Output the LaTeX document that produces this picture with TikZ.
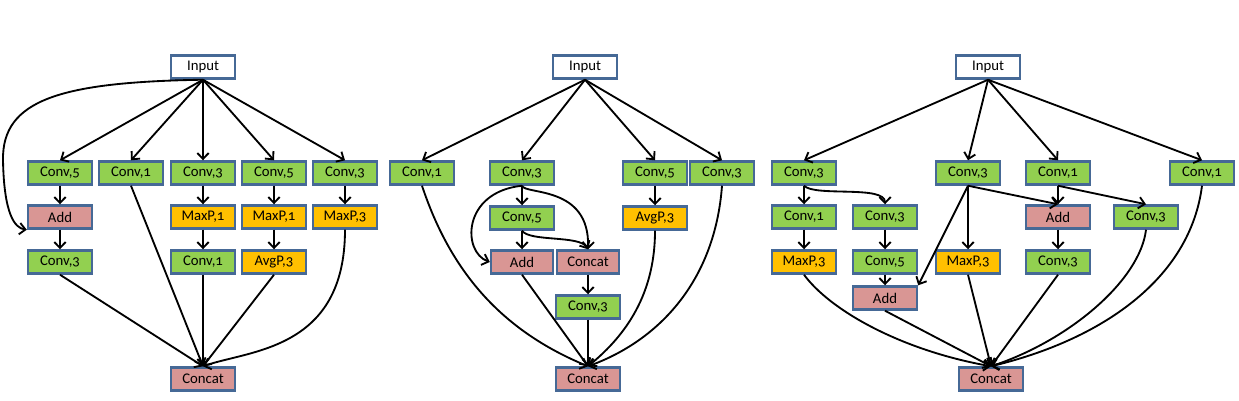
\documentclass[tikz,border=0pt]{standalone}
\usepackage{fontspec}
\setmainfont{Carlito}[Numbers=OldStyle]
\usetikzlibrary{arrows.meta}
\definecolor{boxline}{RGB}{70,105,150}
\definecolor{convgreen}{RGB}{146,208,80}
\definecolor{poolorange}{RGB}{255,192,0}
\definecolor{mergepink}{RGB}{217,150,148}
\begin{document}
\begin{tikzpicture}[x=0.02cm,y=-0.02cm,
  op/.style={draw=boxline,line width=1.4pt,minimum width=1.28cm,minimum height=0.46cm,inner sep=0pt,font=\fontsize{8.4}{10}\selectfont},
  conv/.style={op,fill=convgreen},
  pool/.style={op,fill=poolorange},
  merge/.style={op,fill=mergepink},
  inp/.style={op,fill=white},
  edge/.style={line width=1.05pt,-{Straight Barb[length=3.4pt,width=6.5pt]}}]
\useasboundingbox (0,0) rectangle (1239,400);
\node[inp] (inL) at (203,67) {Input};
\node[conv] (c5L) at (60,173) {Conv,5};
\node[conv] (c1L) at (131,173) {Conv,1};
\node[conv] (c3L) at (203,173) {Conv,3};
\node[conv] (c5Lb) at (274,173) {Conv,5};
\node[conv] (c3Lb) at (345,173) {Conv,3};
\node[merge] (addL) at (60,217) {Add};
\node[pool] (mp1L) at (203,217) {MaxP,1};
\node[pool] (mp1Lb) at (274,217) {MaxP,1};
\node[pool] (mp3L) at (345,217) {MaxP,3};
\node[conv] (c3Lc) at (60,262) {Conv,3};
\node[conv] (c1Lb) at (203,262) {Conv,1};
\node[pool] (ap3L) at (274,262) {AvgP,3};
\node[merge] (catL) at (203,379) {Concat};
\foreach \n in {c5L,c1L,c3L,c5Lb,c3Lb} \draw[edge] (inL.south) -- (\n.north);
\draw[edge] (inL.south) .. controls (60,82) and (2,100) .. (3,160) .. controls (4,215) and (15,228) .. (addL.south west);
\draw[edge] (c5L) -- (addL);
\draw[edge] (addL) -- (c3Lc);
\draw[edge] (c3L) -- (mp1L);
\draw[edge] (mp1L) -- (c1Lb);
\draw[edge] (c5Lb) -- (mp1Lb);
\draw[edge] (mp1Lb) -- (ap3L);
\draw[edge] (c3Lb) -- (mp3L);
\foreach \n in {c3Lc,c1L,c1Lb,ap3L} \draw[edge] (\n.south) -- (catL.north);
\draw[edge] (mp3L.south) .. controls (345,350) and (250,350) .. (catL.north);

\node[inp] (inM) at (585,67) {Input};
\node[conv] (c1M) at (422,173) {Conv,1};
\node[conv] (c3M) at (522,173) {Conv,3};
\node[conv] (c5M) at (655,173) {Conv,5};
\node[conv] (c3Mb) at (722,173) {Conv,3};
\node[conv] (c5Mb) at (522,218) {Conv,5};
\node[pool] (ap3M) at (655,218) {AvgP,3};
\node[merge,minimum width=1.24cm] (addM) at (522,262) {Add};
\node[merge,minimum width=1.24cm] (catMa) at (588,262) {Concat};
\node[conv] (c3Mc) at (588,307) {Conv,3};
\node[merge] (catM) at (588,379) {Concat};
\foreach \n in {c1M,c3M,c5M,c3Mb} \draw[edge] (inM.south) -- (\n.north);
\draw[edge] (c3M) -- (c5Mb);
\draw[edge] (c3M.south) .. controls (462,192) and (462,252) .. (addM.west);
\draw[edge] (c3M.south) .. controls (525,195) and (590,185) .. (catMa.north);
\draw[edge] (c5Mb) -- (addM);
\draw[edge] (c5Mb.south) .. controls (530,242) and (580,235) .. (catMa.north);
\draw[edge] (catMa) -- (c3Mc);
\draw[edge] (c5M) -- (ap3M);
\draw[edge] (c1M.south) .. controls (450,270) and (500,330) .. (catM.north);
\draw[edge] (addM.south) -- (catM.north);
\draw[edge] (c3Mc) -- (catM);
\draw[edge] (ap3M.south) .. controls (655,300) and (620,340) .. (catM.north);
\draw[edge] (c3Mb.south) .. controls (715,280) and (660,340) .. (catM.north);

\node[inp] (inR) at (988,67) {Input};
\node[conv] (c3R) at (804,173) {Conv,3};
\node[conv] (c3Rb) at (968,173) {Conv,3};
\node[conv] (c1R) at (1058,173) {Conv,1};
\node[conv] (c1Rb) at (1202,173) {Conv,1};
\node[conv] (c1Rc) at (804,217) {Conv,1};
\node[conv] (c3Rc) at (885,217) {Conv,3};
\node[merge] (addR) at (1058,217) {Add};
\node[conv] (c3Rd) at (1146,217) {Conv,3};
\node[pool] (mp3R) at (804,262) {MaxP,3};
\node[conv] (c5R) at (885,262) {Conv,5};
\node[pool] (mp3Rb) at (968,262) {MaxP,3};
\node[conv] (c3Re) at (1058,262) {Conv,3};
\node[merge] (addRb) at (885,298) {Add};
\node[merge] (catR) at (991,379) {Concat};
\foreach \n in {c3R,c3Rb,c1R,c1Rb} \draw[edge] (inR.south) -- (\n.north);
\draw[edge] (c3R) -- (c1Rc);
\draw[edge] (c1Rc) -- (mp3R);
\draw[edge] (c3R.south) .. controls (815,197) and (885,185) .. (c3Rc.north);
\draw[edge] (c3Rc) -- (c5R);
\draw[edge] (c5R) -- (addRb);
\draw[edge] (c3Rb.south) -- (addRb.north east);
\draw[edge] (c3Rb) -- (mp3Rb);
\draw[edge] (c3Rb.south) -- (addR.north);
\draw[edge] (c1R) -- (addR);
\draw[edge] (c1R.south) -- (c3Rd.north);
\draw[edge] (addR) -- (c3Re);
\foreach \n in {addRb,mp3Rb,c3Re} \draw[edge] (\n.south) -- (catR.north);
\draw[edge] (mp3R.south) .. controls (830,310) and (900,350) .. (catR.north);
\draw[edge] (c3Rd.south) .. controls (1140,280) and (1070,340) .. (catR.north);
\draw[edge] (c1Rb.south) .. controls (1190,280) and (1100,340) .. (catR.north);
\end{tikzpicture}
\end{document}
